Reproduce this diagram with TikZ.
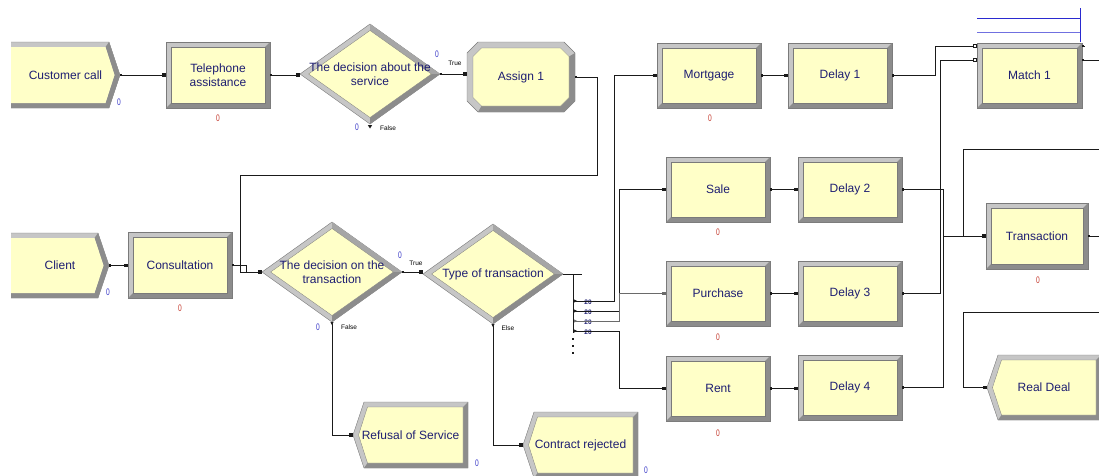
\documentclass[tikz,border=0pt]{standalone}
\usepackage{fontspec}
\setmainfont{Liberation Sans}
\usetikzlibrary{arrows.meta,backgrounds}

\definecolor{modfill}{HTML}{FFFFC8}
\definecolor{bevlight}{HTML}{C6C6C6}
\definecolor{bevmid}{HTML}{A6A6A6}
\definecolor{bevdark}{HTML}{8C8C8C}
\definecolor{bevedge}{HTML}{7A7A7A}
\definecolor{txt}{HTML}{1E1E72}
\definecolor{linec}{HTML}{1A1A1A}
\definecolor{linegray}{HTML}{6A6A6A}
\definecolor{cntred}{HTML}{C43A2E}
\definecolor{cntblue}{HTML}{3A3AC8}
\definecolor{qblue}{HTML}{2A2AD0}
\definecolor{qblue2}{HTML}{7070E0}

\newcommand\modfont{\fontsize{12}{14}\selectfont}
\newcommand\BvW{5pt}
\newcommand\BvT{11pt}

% bevelled process box
\newcommand\BevRect[1]{%
  \begin{scope}[on background layer]
    \filldraw[fill=bevlight,draw=bevedge,line width=0.4pt] (#1.north west) rectangle (#1.south east);
    \fill[bevdark] (#1.south west) -- (#1.south east) -- (#1.north east)
      -- ([shift={(-\BvW,-\BvW)}]#1.north east) -- ([shift={(-\BvW,\BvW)}]#1.south east)
      -- ([shift={(\BvW,\BvW)}]#1.south west) -- cycle;
    \filldraw[fill=modfill,draw=bevedge,line width=0.3pt] ([shift={(\BvW,-\BvW)}]#1.north west) rectangle ([shift={(-\BvW,\BvW)}]#1.south east);
  \end{scope}}

% bevelled decision diamond
\newcommand\BevDiamond[1]{%
  \begin{scope}[on background layer]
    \filldraw[fill=bevlight,draw=bevedge,line width=0.4pt] (#1.west) -- (#1.north) -- (#1.east) -- (#1.south) -- cycle;
    \fill[bevmid] (#1.north) -- (#1.east) -- ([xshift=-8.6pt]#1.east) -- ([yshift=-6.5pt]#1.north) -- cycle;
    \fill[bevdark] (#1.east) -- (#1.south) -- ([yshift=6.5pt]#1.south) -- ([xshift=-8.6pt]#1.east) -- cycle;
    \filldraw[fill=modfill,draw=bevedge,line width=0.3pt] ([xshift=8.6pt]#1.west) -- ([yshift=-6.5pt]#1.north) -- ([xshift=-8.6pt]#1.east) -- ([yshift=6.5pt]#1.south) -- cycle;
  \end{scope}}

% bevelled assign octagon
\newcommand\BevOct[1]{%
  \begin{scope}[on background layer]
    \filldraw[fill=bevlight,draw=bevedge,line width=0.4pt]
      ([xshift=11pt]#1.north west) -- ([xshift=-11pt]#1.north east) -- ([yshift=-11pt]#1.north east)
      -- ([yshift=11pt]#1.south east) -- ([xshift=-11pt]#1.south east) -- ([xshift=11pt]#1.south west)
      -- ([yshift=11pt]#1.south west) -- ([yshift=-11pt]#1.north west) -- cycle;
    \fill[bevdark] ([xshift=11pt]#1.south west) -- ([xshift=-11pt]#1.south east) -- ([yshift=11pt]#1.south east)
      -- ([yshift=-11pt]#1.north east) -- ([shift={(-6pt,-14.5pt)}]#1.north east) -- ([shift={(-6pt,14.5pt)}]#1.south east)
      -- ([shift={(-14.5pt,6pt)}]#1.south east) -- ([shift={(14.5pt,6pt)}]#1.south west) -- cycle;
    \filldraw[fill=modfill,draw=bevedge,line width=0.3pt]
      ([shift={(14.5pt,-6pt)}]#1.north west) -- ([shift={(-14.5pt,-6pt)}]#1.north east)
      -- ([shift={(-6pt,-14.5pt)}]#1.north east) -- ([shift={(-6pt,14.5pt)}]#1.south east)
      -- ([shift={(-14.5pt,6pt)}]#1.south east) -- ([shift={(14.5pt,6pt)}]#1.south west)
      -- ([shift={(6pt,14.5pt)}]#1.south west) -- ([shift={(6pt,-14.5pt)}]#1.north west) -- cycle;
  \end{scope}}

% bevelled create module, pointing right, open on the left
\newcommand\BevCreate[1]{%
  \begin{scope}[on background layer]
    \filldraw[fill=bevlight,draw=bevedge,line width=0.4pt] (#1.north west) -- ([xshift=-\BvT]#1.north east)
      -- (#1.east) -- ([xshift=-\BvT]#1.south east) -- (#1.south west);
    \fill[bevdark] (#1.south west) -- ([xshift=-\BvT]#1.south east) -- (#1.east) -- ([xshift=-\BvT]#1.north east)
      -- ([shift={(-\BvT-3.5pt,-\BvW)}]#1.north east) -- ([xshift=-5.5pt]#1.east)
      -- ([shift={(-\BvT-3.5pt,\BvW)}]#1.south east) -- ([yshift=\BvW]#1.south west) -- cycle;
    \fill[modfill] ([yshift=-\BvW]#1.north west) -- ([shift={(-\BvT-3.5pt,-\BvW)}]#1.north east)
      -- ([xshift=-5.5pt]#1.east) -- ([shift={(-\BvT-3.5pt,\BvW)}]#1.south east) -- ([yshift=\BvW]#1.south west) -- cycle;
  \end{scope}}

% bevelled dispose module, pointing left
\newcommand\BevDispose[1]{%
  \begin{scope}[on background layer]
    \filldraw[fill=bevlight,draw=bevedge,line width=0.4pt] (#1.west) -- ([xshift=\BvT]#1.north west)
      -- (#1.north east) -- (#1.south east) -- ([xshift=\BvT]#1.south west) -- cycle;
    \fill[bevdark] ([xshift=\BvT]#1.south west) -- (#1.south east) -- (#1.north east)
      -- ([shift={(-\BvW,-\BvW)}]#1.north east) -- ([shift={(-\BvW,\BvW)}]#1.south east)
      -- ([shift={(\BvT+3.5pt,\BvW)}]#1.south west) -- cycle;
    \filldraw[fill=modfill,draw=bevedge,line width=0.3pt] ([xshift=5.5pt]#1.west) -- ([shift={(\BvT+3.5pt,-\BvW)}]#1.north west)
      -- ([shift={(-\BvW,-\BvW)}]#1.north east) -- ([shift={(-\BvW,\BvW)}]#1.south east)
      -- ([shift={(\BvT+3.5pt,\BvW)}]#1.south west) -- cycle;
  \end{scope}}

\begin{document}
\begin{tikzpicture}[x=1pt,y=-1pt,
  mod/.style={rectangle,inner sep=0pt,outer sep=0pt,font=\modfont,text=txt,align=center},
  rmod/.style={mod,minimum width=104pt,minimum height=65pt},
  dmod/.style={mod,minimum width=140pt,minimum height=100pt},
  wire/.style={draw=linec,line width=0.9pt},
  conn/.style={wire,{Square[length=2pt,width=2.6pt]}-{Square[length=3.6pt,width=3.6pt]}},
  inconn/.style={wire,-{Square[length=3.6pt,width=3.6pt]}},
  outconn/.style={wire,{Square[length=2pt,width=2.6pt]}-},
  mconn/.style={wire,{Square[length=2pt,width=2.6pt]}-{Square[open,fill=white,length=4pt,width=4pt]}},
  busc/.style={wire,{Latex[reversed,length=3.5pt,width=3.5pt]}-{Square[length=3.6pt,width=3.6pt]}},
  cnt/.style={font=\fontsize{9.5}{10}\selectfont,inner sep=0pt,xscale=0.7},
  rc/.style={cnt,text=cntred},
  bc/.style={cnt,text=cntblue},
  brlbl/.style={font=\fontsize{6.5}{7}\selectfont,inner sep=0pt,text=black},
  pct/.style={font=\fontsize{6.5}{7}\selectfont\bfseries,inner sep=0pt,text=txt},
  qline/.style={line width=1pt,draw=qblue},
]
\useasboundingbox (0,0) rectangle (1099,475);
\begin{scope}[on background layer]
  \fill[white] (0,0) rectangle (1099,475);
\end{scope}

% ---- modules ----
\node[mod,minimum width=109pt,minimum height=66pt] (cust) at (65.5,75) {Customer call};
\BevCreate{cust}
\node[rmod,minimum height=66pt] (tel) at (218,75) {Telephone\\assistance};
\BevRect{tel}
\node[dmod] (dec1) at (370,74) {The decision about the\\service};
\BevDiamond{dec1}
\node[mod,minimum width=108pt,minimum height=70pt] (assign) at (521,77) {Assign 1};
\BevOct{assign}
\node[rmod] (mortgage) at (709,75.5) {Mortgage};
\BevRect{mortgage}
\node[rmod] (delay1) at (840,75.5) {Delay 1};
\BevRect{delay1}
\node[rmod,minimum width=105pt] (match1) at (1029.5,75.5) {Match 1};
\BevRect{match1}

\node[mod,minimum width=98pt,minimum height=65pt] (client) at (60,265.5) {Client};
\BevCreate{client}
\node[rmod,minimum height=66pt] (consult) at (180,265) {Consultation};
\BevRect{consult}
\node[dmod] (dec2) at (332,272) {The decision on the\\transaction};
\BevDiamond{dec2}
\node[dmod] (dec3) at (493,274) {Type of transaction};
\BevDiamond{dec3}

\node[rmod] (sale) at (718,189.5) {Sale};
\BevRect{sale}
\node[rmod] (delay2) at (850,189.5) {Delay 2};
\BevRect{delay2}
\node[rmod] (purchase) at (718,293.5) {Purchase};
\BevRect{purchase}
\node[rmod] (delay3) at (850,293.5) {Delay 3};
\BevRect{delay3}
\node[rmod] (rent) at (718,388.5) {Rent};
\BevRect{rent}
\node[rmod] (delay4) at (850,387.5) {Delay 4};
\BevRect{delay4}
\node[mod,minimum width=102pt,minimum height=66pt] (trans) at (1037,236) {Transaction};
\BevRect{trans}
\node[mod,minimum width=114pt,minimum height=65pt] (realdeal) at (1044,387.5) {Real Deal};
\BevDispose{realdeal}
\node[mod,minimum width=115pt,minimum height=66pt] (refusal) at (410.5,435) {Refusal of Service};
\BevDispose{refusal}
\node[mod,minimum width=115pt,minimum height=66pt] (contract) at (580.5,445) {Contract rejected};
\BevDispose{contract}

% queue of the match module
\draw[qline] ([yshift=25pt]match1.north west) -- ++(103,0);
\draw[qline,draw=qblue2] ([yshift=11pt]match1.north west) -- ++(103,0);
\draw[qline] ([shift={(-2pt,35pt)}]match1.north east) -- ([shift={(-2pt,1pt)}]match1.north east);

% ---- counters ----
\node[bc] (c-cust) at (119,102) {0};
\node[rc] (c-tel) at (218,118) {0};
\node[bc] (c-d1t) at (437,54) {0};
\node[bc] (c-d1f) at (357,127) {0};
\node[bc] (c-client) at (108,292) {0};
\node[rc] (c-consult) at (180,308) {0};
\node[bc] (c-d2t) at (400,255) {0};
\node[bc] (c-d2f) at (318,327) {0};
\node[rc] (c-mort) at (710,118) {0};
\node[rc] (c-sale) at (718,232) {0};
\node[rc] (c-purch) at (718,337) {0};
\node[rc] (c-rent) at (718,433) {0};
\node[rc] (c-trans) at (1038,280) {0};
\node[bc] (c-ref) at (477,463) {0};
\node[bc] (c-con) at (646,470) {0};

% ---- branch labels ----
\node[brlbl] (l-d1t) at (455,63) {True};
\node[brlbl] (l-d1f) at (388,128) {False};
\node[brlbl] (l-d2t) at (416,263) {True};
\node[brlbl] (l-d2f) at (349,327) {False};
\node[brlbl] (l-d3e) at (508,328) {Else};
\fill[linec] ([shift={(-2.2pt,-1pt)}]dec1.south) -- ++(4.4pt,0pt) -- ++(-2.2pt,-3.5pt) -- cycle;

% ---- connectors ----
\coordinate (jA) at (240,175);
\draw[conn] (cust.east) -- (tel.west);
\draw[conn] (tel.east) -- (tel.east -| dec1.west);
\draw[conn] (dec1.east) -- (dec1.east -| assign.west);
\draw[conn] (assign.east) -- ++(22,0) |- (jA) |- (dec2.west);
\draw[conn] (client.east) -- (client.east -| consult.west);
\draw[conn] (consult.east) -- ++(14,0) |- (dec2.west);
\draw[conn] (dec2.east) -- (dec2.east -| dec3.west);
\draw[busc] (dec2.south) |- (refusal.west);
\draw[busc] (dec3.south) |- (contract.west);

% branches of the type of transaction
\coordinate (busT) at ([xshift=10pt]dec3.east);
\draw[wire] (dec3.east) -- ++(19,0);
\draw[wire] (busT) -- ++(0,59);
\foreach \yy in {338,345,352} \fill[linec] (572,\yy) rectangle (574,\yy+2);
\foreach \i/\yy in {1/301,2/311,3/321,4/331} {
  \coordinate (b\i) at (574,\yy);
  \node[pct] (p\i) at (588,\yy+1) {20};
}
\draw[busc] (b1) -| ([xshift=-43pt]mortgage.west) -- (mortgage.west);
\draw[busc] (b2) -| ([xshift=-47pt]sale.west) -- (sale.west);
\draw[busc,draw=linegray] (b3) -| ([xshift=-47pt]purchase.west) -- (purchase.west);
\draw[busc] (b4) -| ([xshift=-47pt]rent.west) -- (rent.west);

\draw[conn] (mortgage.east) -- (delay1.west);
\draw[conn] (sale.east) -- (delay2.west);
\draw[conn] (purchase.east) -- (delay3.west);
\draw[conn] (rent.east) -- (rent.east -| delay4.west);

\coordinate (m1a) at ([yshift=-3pt]match1.north west);
\coordinate (m1b) at ([yshift=-17pt]match1.north west);
\coordinate (m1c) at ([yshift=-3pt]match1.north east);
\coordinate (m1o) at ([yshift=-17pt]match1.north east);
\draw[mconn] (delay1.east) -- ++(43,0) |- (m1a);
\draw[mconn] (delay3.east) -- ++(38,0) |- (m1b);
\draw[conn] (delay2.east) -- ++(41,0) |- (trans.west);
\draw[conn] (delay4.east) -- ++(41,0) |- (trans.west);

\coordinate (jT) at ([xshift=-23pt]trans.west);
\coordinate (edgeA) at (1099,149);
\coordinate (edgeB) at (1099,236);
\coordinate (edgeC) at (1099,312);
\draw[wire] (edgeA) -| (jT);
\draw[outconn] (trans.east) -- (trans.east -| edgeB);
\draw[outconn] (m1o) -- (m1o -| edgeB);
\draw[outconn] (m1c) -- ++(2,0);
\draw[inconn] (edgeC) -| ([xshift=-24pt]realdeal.west) -- (realdeal.west);
\end{tikzpicture}
\end{document}
